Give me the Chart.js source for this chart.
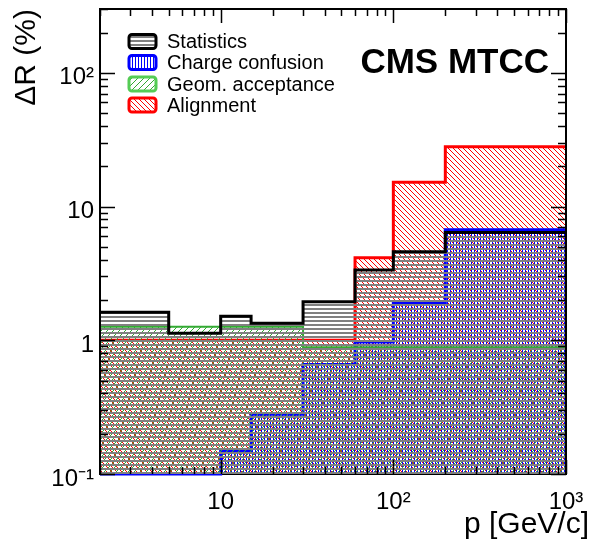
<!DOCTYPE html>
<html>
<head>
<meta charset="utf-8">
<script src="https://cdn.jsdelivr.net/npm/chart.js@4.4.0/dist/chart.umd.min.js"></script>
<style>
  html, body { margin: 0; padding: 0; background: #fff; }
  #box { width: 592px; height: 544px; }
</style>
</head>
<body>
<div id="box"><canvas id="grafico"></canvas></div>
<script>
// Bordas dos bins em p (GeV/c)
const binEdges = [2, 5, 10, 15, 30, 60, 100, 200, 1000];

// ΔR (%) por bin
const statistics = [1.62, 1.13, 1.51, 1.34, 1.94, 3.36, 4.6, 6.4];
const chargeConfusion = [0.1, 0.1, 0.15, 0.28, 0.66, 0.97, 1.9, 6.7];
const geomAcceptance = [1.26, 1.26, 1.26, 1.26, 0.885, 0.885, 0.885, 0.885];
const alignment = [1.0, 1.0, 1.0, 1.0, 1.0, 4.14, 15.2, 28];

// Ticks (estilo ROOT, todos os menores)
const xTicks = [2, 3, 4, 5, 6, 7, 8, 9, 10, 20, 30, 40, 50, 60, 70, 80, 90, 100, 200, 300, 400, 500, 600, 700, 800, 900, 1000];
const yTicks = [0.1, 0.2, 0.3, 0.4, 0.5, 0.6, 0.7, 0.8, 0.9, 1, 2, 3, 4, 5, 6, 7, 8, 9, 10, 20, 30, 40, 50, 60, 70, 80, 90, 100, 200, 300];
const xLabelValues = [10, 100, 1000];
const xLabelTexts = ['10', '10²', '10³'];
const yLabelValues = [0.1, 1, 10, 100];
const yLabelTexts = ['10⁻¹', '1', '10', '10²'];

const xTitle = 'p [GeV/c]';
const yTitle = 'ΔR (%)';
const tagText = 'CMS MTCC';

const FONTE = "'Liberation Sans', Arial, sans-serif";
Chart.defaults.font.family = FONTE;
Chart.defaults.color = '#000';

const canvas = document.getElementById('grafico');
const ctxPrincipal = canvas.getContext('2d');

// Hachuras tipo ROOT
function hachura(tipo, cor, periodo) {
  const c = document.createElement('canvas');
  c.width = periodo;
  c.height = periodo;
  const g = c.getContext('2d');
  g.fillStyle = cor;
  if (tipo === 'h') g.fillRect(0, 0, periodo, 2);
  if (tipo === 'v') g.fillRect(0, 0, 1, periodo);
  for (let i = 0; i < periodo; i++) {
    if (tipo === '/') g.fillRect(i, periodo - 1 - i, 1, 1);
    if (tipo === '\\') g.fillRect(i, i, 1, 1);
  }
  return ctxPrincipal.createPattern(c, 'repeat');
}

function pontos(vals) {
  return binEdges.map((e, i) => ({ x: e, y: vals[Math.min(i, vals.length - 1)] }));
}

const isMajor = v => Math.abs(Math.log10(v) - Math.round(Math.log10(v))) < 1e-9;

// Moldura, ticks para dentro, legenda e textos
const rootPlugin = {
  id: 'rootPlugin',
  beforeDatasetsDraw(chart) {
    const { ctx, chartArea: a } = chart;
    ctx.save();
    ctx.strokeStyle = '#000';
    ctx.lineWidth = 2;
    ctx.strokeRect(a.left, a.top, a.right - a.left, a.bottom - a.top);
    ctx.restore();
  },
  afterDraw(chart) {
    const { ctx, chartArea: a, scales } = chart;
    ctx.save();
    ctx.strokeStyle = '#000';
    ctx.lineWidth = 1.5;
    ctx.beginPath();
    xTicks.forEach(v => {
      const px = Math.round(scales.x.getPixelForValue(v)) + 0.5;
      const len = isMajor(v) ? 14 : 7;
      ctx.moveTo(px, a.bottom); ctx.lineTo(px, a.bottom - len);
      ctx.moveTo(px, a.top); ctx.lineTo(px, a.top + len);
    });
    yTicks.forEach(v => {
      const py = Math.round(scales.y.getPixelForValue(v)) + 0.5;
      const len = isMajor(v) ? 15 : 8;
      ctx.moveTo(a.left, py); ctx.lineTo(a.left + len, py);
      ctx.moveTo(a.right, py); ctx.lineTo(a.right - len, py);
    });
    ctx.stroke();
    ctx.lineWidth = 2;
    ctx.beginPath();
    ctx.moveTo(a.left, a.bottom); ctx.lineTo(a.left, a.top);
    ctx.lineTo(a.right, a.top); ctx.lineTo(a.right, a.bottom);
    ctx.stroke();

    // legenda
    const rows = [41.5, 62.5, 84, 105];
    ctx.font = '20px ' + FONTE;
    ctx.textBaseline = 'middle';
    ctx.textAlign = 'left';
    chart.data.datasets.forEach((ds, i) => {
      const y = rows[i];
      ctx.beginPath();
      ctx.roundRect(129, y - 7, 27, 14, 3);
      ctx.fillStyle = '#fff';
      ctx.fill();
      ctx.fillStyle = ds.backgroundColor;
      ctx.fill();
      ctx.lineWidth = 3;
      ctx.strokeStyle = ds.legendColor;
      ctx.stroke();
      ctx.fillStyle = '#000';
      ctx.fillText(ds.label, 167, y + 1);
    });

    ctx.font = 'bold 35px ' + FONTE;
    ctx.textAlign = 'right';
    ctx.textBaseline = 'alphabetic';
    ctx.fillText(tagText, 549, 73);

    ctx.font = '30px ' + FONTE;
    ctx.fillText(xTitle, 589, 533);
    ctx.restore();
  }
};

new Chart(canvas, {
  type: 'line',
  data: {
    datasets: [
      {
        label: 'Statistics',
        data: pontos(statistics),
        borderColor: '#000000',
        legendColor: '#000000',
        borderWidth: 3,
        backgroundColor: hachura('h', '#808080', 4),
        order: 0
      },
      {
        label: 'Charge confusion',
        data: pontos(chargeConfusion),
        borderColor: '#0000ff',
        legendColor: '#0000ff',
        borderWidth: 3,
        backgroundColor: hachura('v', '#0000ff', 3),
        order: 2
      },
      {
        label: 'Geom. acceptance',
        data: pontos(geomAcceptance),
        borderColor: '#33aa33',
        legendColor: '#55cc55',
        borderWidth: 2,
        backgroundColor: hachura('/', '#33aa33', 6),
        order: 1
      },
      {
        label: 'Alignment',
        data: pontos(alignment),
        borderColor: '#ff0000',
        legendColor: '#ff0000',
        borderWidth: 3,
        backgroundColor: hachura('\\', '#ff0000', 5),
        order: 3
      }
    ].map(ds => Object.assign(ds, { fill: 'start', stepped: true, pointRadius: 0, tension: 0, clip: 3 }))
  },
  options: {
    responsive: true,
    maintainAspectRatio: false,
    animation: false,
    layout: { padding: { top: 9, right: 26, left: 0, bottom: 0 } },
    plugins: {
      legend: { display: false },
      tooltip: { enabled: false }
    },
    scales: {
      x: {
        type: 'logarithmic',
        min: 2,
        max: 1000,
        grid: { display: false, drawTicks: false },
        border: { display: false },
        afterBuildTicks: s => { s.ticks = xTicks.map(v => ({ value: v })); },
        afterFit: s => { s.height = 70; s.paddingLeft = 0; s.paddingRight = 0; },
        ticks: {
          autoSkip: false,
          maxRotation: 0,
          padding: 14,
          font: { size: 24 },
          callback: v => {
            const k = xLabelValues.indexOf(v);
            return k >= 0 ? xLabelTexts[k] : '';
          }
        }
      },
      y: {
        type: 'logarithmic',
        min: 0.1,
        max: 300,
        grid: { display: false, drawTicks: false },
        border: { display: false },
        afterBuildTicks: s => { s.ticks = yTicks.map(v => ({ value: v })); },
        afterFit: s => { s.width = 100; s.paddingTop = 0; s.paddingBottom = 0; },
        title: {
          display: true,
          text: yTitle,
          align: 'end',
          font: { size: 30 },
          padding: { top: 9, bottom: 0 }
        },
        ticks: {
          autoSkip: false,
          padding: 6,
          labelOffset: 5,
          font: { size: 24 },
          callback: v => {
            const k = yLabelValues.indexOf(v);
            return k >= 0 ? yLabelTexts[k] : '';
          }
        }
      }
    }
  },
  plugins: [rootPlugin]
});
</script>
</body>
</html>
